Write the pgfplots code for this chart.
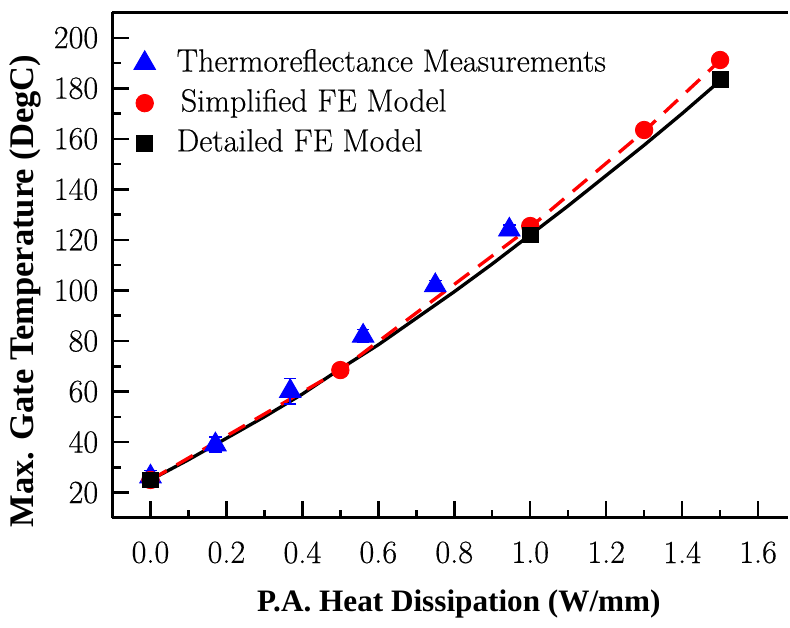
\documentclass[border=0pt]{standalone}
\usepackage{fontspec}
\setmainfont{Latin Modern Roman}[FakeBold=0.4]
\newfontfamily\libser{Liberation Serif}
\usepackage{pgfplots}
\pgfplotsset{compat=1.18}
\begin{document}
\fontsize{14}{16}\selectfont
\begin{tikzpicture}
\begin{axis}[
    name=ax,
    scale only axis,
    width=325pt, height=243pt,
    xmin=-0.1, xmax=1.68,
    ymin=10, ymax=210,
    xtick={0,0.2,...,1.6},
    minor xtick={0.1,0.3,...,1.5},
    ytick={20,40,...,200},
    minor ytick={30,50,...,190},
    xtick pos=bottom, ytick pos=left,
    tick align=inside,
    major tick length=8pt, minor tick length=4pt,
    tick style={black, line width=1.2pt},
    axis x line*=box, axis y line*=left,
    axis line style={black, line width=1.5pt, -},
    /pgf/number format/assume math mode=true,
    /pgf/number format/fixed,
    /pgf/number format/fixed zerofill,
    /pgf/number format/precision=1,
    yticklabel style={/pgf/number format/precision=0, /pgf/number format/fixed zerofill=false},
    tick label style={font=\fontsize{15.5}{17}\selectfont},
    xticklabel style={yshift=-6.5pt},
    yticklabel style={xshift=-2pt},
    xlabel={\libser\bfseries P.A. Heat Dissipation (W/mm)},
    ylabel={\libser\bfseries Max. Gate Temperature (DegC)},
    xlabel style={font=\fontsize{15}{17}\selectfont, yshift=-3pt, xshift=4pt},
    ylabel style={font=\fontsize{16.6}{19}\selectfont, yshift=-3.5pt, xshift=-12.5pt},
    legend style={draw=none, fill=none, at={(axis cs:-0.063,197.5)}, anchor=north west,
        inner sep=0pt,
        font=\fontsize{15.4}{17}\selectfont, row sep=1.2pt,
        nodes={inner sep=2pt, text height=11pt, text depth=3pt}},
    legend image code/.code={
        \draw[#1] plot coordinates {(0.3cm,0cm)};
        \path[draw=none, fill=none] (0cm,0cm) -- (0.77cm,0cm);
    },
    legend cell align=left,
]
% model curves
\addplot[black, line width=1.6pt, forget plot] coordinates {
    (0,25) (0.1,33) (0.2,41.5) (0.3,50) (0.4,59) (0.5,69) (0.6,78.5)
    (0.7,89) (0.8,99.5) (0.9,110.5) (1.0,122) (1.1,133.5) (1.2,145.5)
    (1.3,157.5) (1.4,170) (1.5,183)
};
\addplot[red, line width=1.6pt, dash pattern=on 9pt off 5.5pt, forget plot] coordinates {
    (0,25) (0.5,68.5) (1.0,125) (1.3,163) (1.5,191)
};
% measurements
\addplot[blue, only marks, mark=triangle*, mark size=6pt,
    error bars/.cd, y dir=both, y explicit,
    error bar style={blue, line width=0.8pt},
    error mark options={blue, rotate=90, mark size=3pt, line width=0.8pt}]
    coordinates {
    (0.0,26.3) +- (0,2.5)
    (0.171,39.0) +- (0,3)
    (0.368,60.1) +- (0,5)
    (0.56,82.0) +- (0,2.5)
    (0.75,102.0) +- (0,2)
    (0.945,124.0) +- (0,2)
};
\addlegendentry{Thermoreflectance Measurements}
\addplot[red, only marks, mark=*, mark size=4.2pt] coordinates {
    (0,25) (0.5,68.5) (1.0,125.5) (1.3,163.5) (1.5,191.2)
};
\addlegendentry{\hspace{2pt}Simplified FE Model}
\addplot[black, only marks, mark=square*, mark size=3.8pt] coordinates {
    (0,25) (1.0,122) (1.5,183.5)
};
\addlegendentry{Detailed FE Model}
\end{axis}
\path ([yshift=6pt]ax.north);
\end{tikzpicture}
\end{document}
